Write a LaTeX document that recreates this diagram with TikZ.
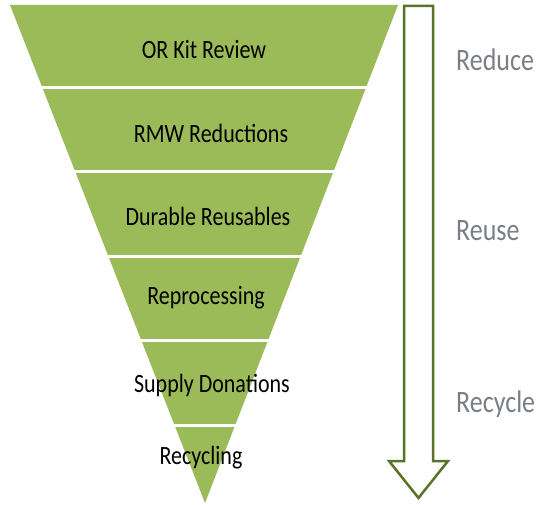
\documentclass[tikz,border=0pt]{standalone}
\usepackage{fontspec}
\setmainfont{Carlito}
\definecolor{bandgreen}{HTML}{9BBB59}
\definecolor{arrowgreen}{HTML}{5A7228}
\definecolor{labelgray}{HTML}{7A7F85}
\newcommand{\tallbox}[1]{\scalebox{1}[1.2]{#1}}
\begin{document}
\begin{tikzpicture}[x=1pt,y=-1pt,
  bandtext/.style={font=\fontsize{22}{26}\selectfont, text=black, inner sep=0pt},
  sidelabel/.style={font=\fontsize{26}{30}\selectfont, text=labelgray, inner sep=0pt, anchor=west},
  separator/.style={white, line width=3pt}]
\useasboundingbox (0,0) rectangle (538,505);
% funnel
\fill[bandgreen] (10,5) -- (398,5) -- (205,503) -- cycle;
\foreach \yy in {88,172,256,340,425}
  \draw[separator] (0,\yy) -- (400,\yy);
% band texts
\node[bandtext] (t1) at (204,50) {\tallbox{OR Kit Review}};
\node[bandtext] (t2) at (211,133) {\tallbox{RMW Reductions}};
\node[bandtext] (t3) at (208,216) {\tallbox{Durable Reusables}};
\node[bandtext] (t4) at (206,298) {\tallbox{Reprocessing}};
\node[bandtext] (t5) at (212,385) {\tallbox{Supply Donations}};
\node[bandtext] (t6) at (201,458) {\tallbox{Recycling}};
% arrow
\draw[arrowgreen, fill=white, line width=2.5pt, line join=miter]
  (404,6) -- (433,6) -- (433,461) -- (448,461) -- (418.5,498) -- (389,461) -- (404,461) -- cycle;
% side labels
\node[sidelabel] (l1) at (456,60) {\tallbox{Reduce}};
\node[sidelabel] (l2) at (456,231) {\tallbox{Reuse}};
\node[sidelabel] (l3) at (456,404) {\tallbox{Recycle}};
\end{tikzpicture}
\end{document}
